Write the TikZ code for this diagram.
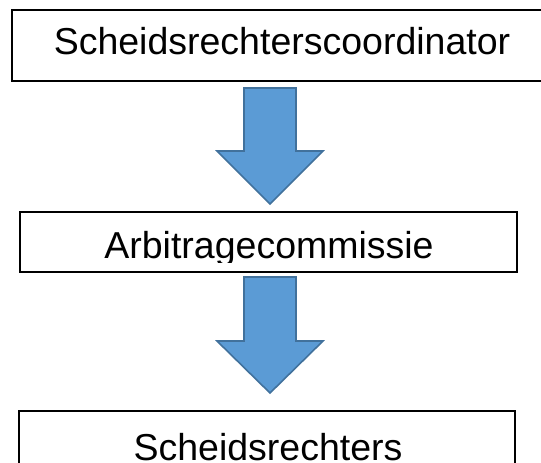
\documentclass[tikz,border=0pt]{standalone}
\usepackage{fontspec}
\setmainfont{Liberation Sans}
\definecolor{arrowfill}{HTML}{5B9BD5}
\definecolor{arrowline}{HTML}{41719C}
\begin{document}
\begin{tikzpicture}[x=1pt,y=-1pt,
  box/.style={draw=black, line width=1.5pt, fill=white, inner sep=0pt, rectangle},
  lbl/.style={anchor=base, inner sep=0pt, font=\fontsize{37.5}{45}\selectfont},
  blockarrow/.style={fill=arrowfill, draw=arrowline, line width=1.6pt, line join=miter}]
\useasboundingbox (0,0) rectangle (541,463);
\clip (0,0) rectangle (541,463);
% boxes
\node[box, minimum width=539pt, minimum height=71pt] (coord) at (281.5,45.5) {};
\node[box, minimum width=497pt, minimum height=60pt] (arb) at (268.5,242) {};
\node[box, minimum width=496pt, minimum height=79pt] (refs) at (267,450.5) {};
% labels
\node[lbl] (tcoord) at (282,54) {Scheidsrechterscoordinator};
\begin{scope}
  \clip (0,212) rectangle (541,262);
  \node[lbl] (tarb) at (269,258) {Arbitragecommissie};
\end{scope}
\node[lbl] (trefs) at (268,460) {Scheidsrechters};
% block arrows
\draw[blockarrow] (244,88) -- (296,88) -- (296,151) -- (323,151) -- (270,204)
  -- (217,151) -- (244,151) -- cycle;
\draw[blockarrow] (244,277) -- (296,277) -- (296,341) -- (323,341) -- (270,393)
  -- (217,341) -- (244,341) -- cycle;
\end{tikzpicture}
\end{document}
